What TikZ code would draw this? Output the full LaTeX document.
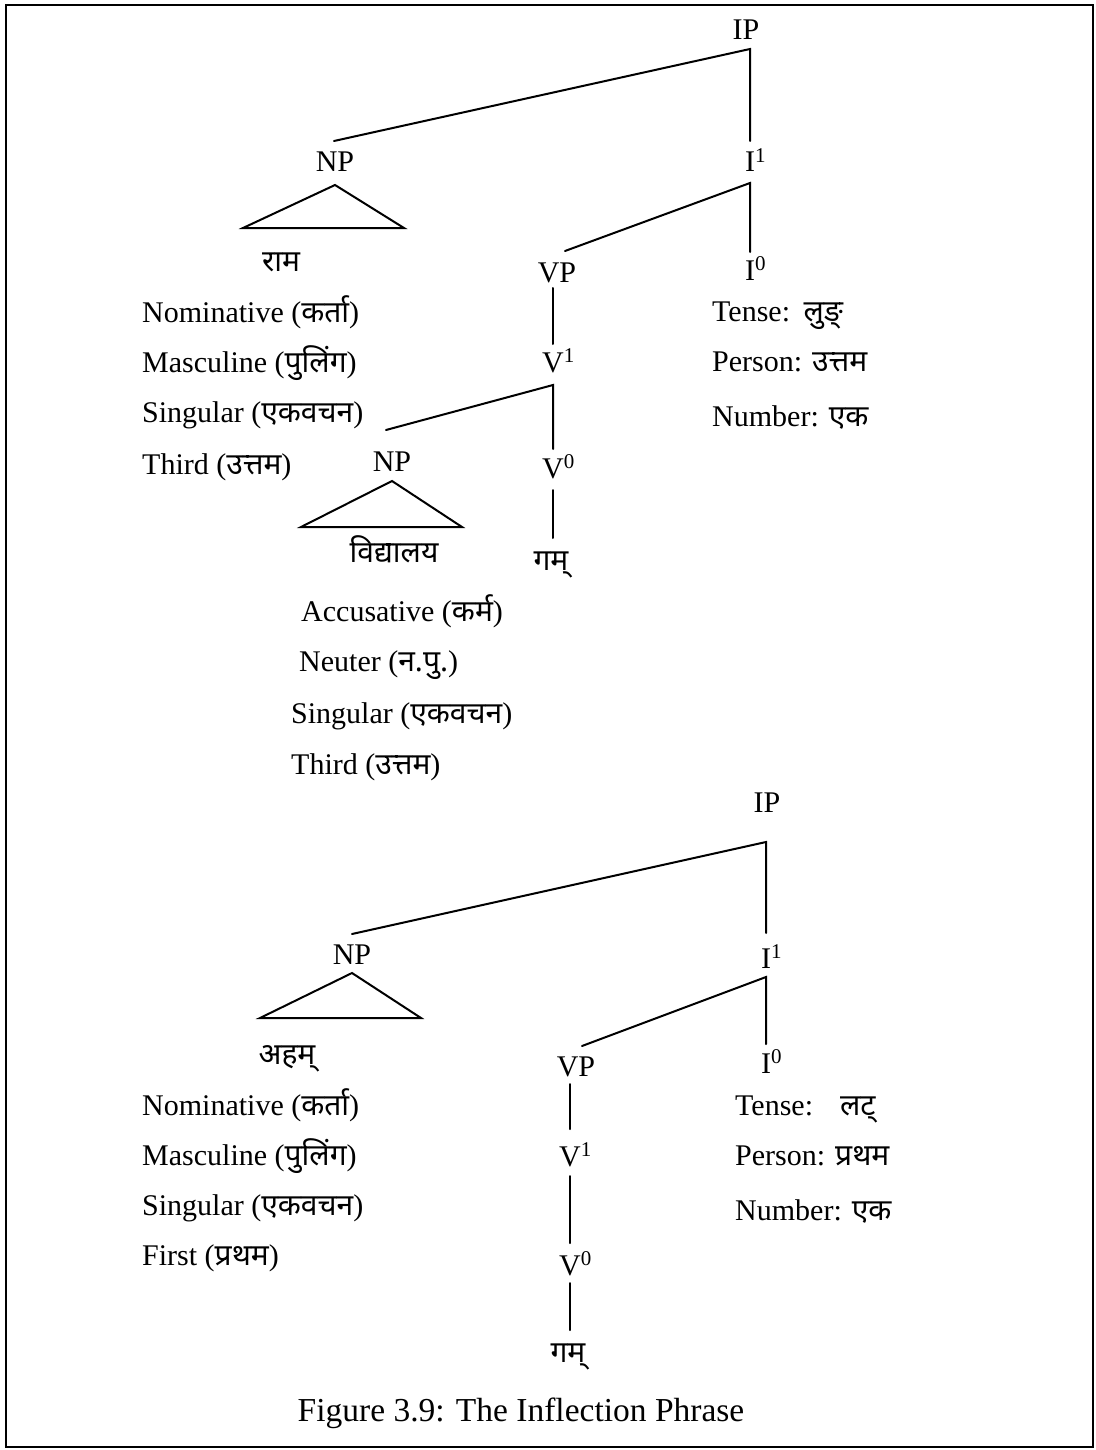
\documentclass[tikz,border=0pt]{standalone}
\usepackage{fontspec}
\setmainfont{Liberation Serif}
\newfontfamily\devfont[Script=Devanagari]{Noto Sans}
\newcommand{\dv}[1]{{\devfont #1}}
\newcommand{\supr}[1]{\rlap{\textsuperscript{#1}}}
\usetikzlibrary{calc}
\begin{document}
\begin{tikzpicture}[x=1pt,y=-1pt,
  font=\fontsize{30}{36}\selectfont,
  cat/.style={inner sep=0pt,anchor=base},
  feat/.style={inner sep=0pt,anchor=base west},
  word/.style={inner sep=0pt,anchor=base},
  branch/.style={line width=2pt,line cap=round},
  box/.style={line width=2pt}]
\useasboundingbox (0,0) rectangle (1095,1450);
\draw[box] (5.5,5) rectangle (1093,1447);

% ---------- upper tree: राम ... गम् (लुङ्) ----------
\node[cat] (t1ip)    at (746,40)  {IP};
\node[cat] (t1np)    at (335,172) {NP};
\node[cat] (t1ibar)  at (750,172) {I\supr{1}};
\node[cat] (t1vp)    at (557,282) {VP};
\node[cat] (t1izero) at (750,280) {I\supr{0}};
\node[cat] (t1vbar)  at (553,372) {V\supr{1}};
\node[cat] (t1npb)   at (392,471) {NP};
\node[cat] (t1vzero) at (553,478) {V\supr{0}};
\node[word] (t1ram)  at (281,271) {\dv{राम}};
\node[word] (t1vid)  at (394,562) {\dv{विद्यालय}};
\node[word] (t1gam)  at (551,570) {\dv{गम्}};

\coordinate (t1j1) at (750,49);
\coordinate (t1j2) at (750,183);
\coordinate (t1j3) at (553,385);

\draw[branch] ($(t1np.base)+(-1,-31)$) -- (t1j1) -- ($(t1ibar.base)+(0,-31)$);
\draw[branch] ($(t1vp.base)+(8,-31)$) -- (t1j2) -- ($(t1izero.base)+(0,-28)$);
\draw[branch] ($(t1vp.base)+(-4,6)$) -- ($(t1vbar.base)+(0,-28)$);
\draw[branch] ($(t1npb.base)+(-6,-41)$) -- (t1j3) -- ($(t1vzero.base)+(0,-29)$);
\draw[branch] ($(t1vzero.base)+(0,12)$) -- ($(t1vzero.base)+(0,60)$);
\draw[branch,line join=miter] ($(t1np.base)+(0,13)$) -- ++(-92,43) -- ++(161,0) -- cycle;
\draw[branch,line join=miter] ($(t1npb.base)+(0,10)$) -- ++(-91,46) -- ++(161,0) -- cycle;

\node[feat] (t1f1) at (142,322) {Nominative (\dv{कर्ता})};
\node[feat] (t1f2) at (142,372) {Masculine (\dv{पुलिंग})};
\node[feat] (t1f3) at (142,422) {Singular (\dv{एकवचन})};
\node[feat] (t1f4) at (142,474) {Third (\dv{उत्तम})};

\node[feat] (t1g1) at (301,621) {Accusative (\dv{कर्म})};
\node[feat] (t1g2) at (299,671) {Neuter (\dv{न.पु.})};
\node[feat] (t1g3) at (291,723) {Singular (\dv{एकवचन})};
\node[feat] (t1g4) at (291,774) {Third (\dv{उत्तम})};

\node[feat] (t1h1) at (712,321) {Tense:\hspace{0.45em}\dv{लुङ्}};
\node[feat] (t1h2) at (712,371) {Person: \dv{उत्तम}};
\node[feat] (t1h3) at (712,426) {Number: \dv{एक}};

% ---------- lower tree: अहम् ... गम् (लट्) ----------
\node[cat] (t2ip)    at (767,812)  {IP};
\node[cat] (t2np)    at (352,964)  {NP};
\node[cat] (t2ibar)  at (766,968)  {I\supr{1}};
\node[cat] (t2vp)    at (576,1076) {VP};
\node[cat] (t2izero) at (766,1073) {I\supr{0}};
\node[cat] (t2vbar)  at (570,1166) {V\supr{1}};
\node[cat] (t2vzero) at (570,1275) {V\supr{0}};
\node[word] (t2aham) at (287,1064) {\dv{अहम्}};
\node[word] (t2gam)  at (568,1362) {\dv{गम्}};

\coordinate (t2j1) at (766,842);
\coordinate (t2j2) at (766,977);

\draw[branch] ($(t2np.base)+(0,-30)$) -- (t2j1) -- ($(t2ibar.base)+(0,-35)$);
\draw[branch] ($(t2vp.base)+(6,-30)$) -- (t2j2) -- ($(t2izero.base)+(0,-29)$);
\draw[branch] ($(t2vp.base)+(-6,8)$) -- ($(t2vbar.base)+(0,-37)$);
\draw[branch] ($(t2vbar.base)+(0,10)$) -- ($(t2vzero.base)+(0,-32)$);
\draw[branch] ($(t2vzero.base)+(0,8)$) -- ($(t2vzero.base)+(0,55)$);
\draw[branch,line join=miter] ($(t2np.base)+(0,9)$) -- ++(-92,45) -- ++(161,0) -- cycle;

\node[feat] (t2f1) at (142,1115) {Nominative (\dv{कर्ता})};
\node[feat] (t2f2) at (142,1165) {Masculine (\dv{पुलिंग})};
\node[feat] (t2f3) at (142,1215) {Singular (\dv{एकवचन})};
\node[feat] (t2f4) at (142,1265) {First (\dv{प्रथम})};

\node[feat] (t2h1) at (735,1115) {Tense:\hspace{0.9em}\dv{लट्}};
\node[feat] (t2h2) at (735,1165) {Person: \dv{प्रथम}};
\node[feat] (t2h3) at (735,1220) {Number: \dv{एक}};

\node[cat,font=\fontsize{33.5}{40}\selectfont] (caption) at (521,1421) {Figure 3.9: The Inflection Phrase};
\end{tikzpicture}
\end{document}
